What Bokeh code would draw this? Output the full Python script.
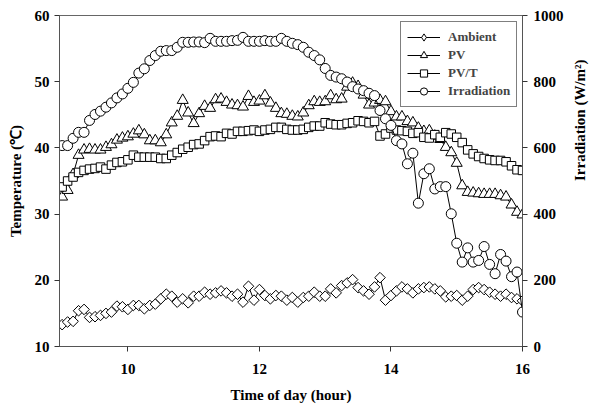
import math
from bokeh.plotting import figure
from bokeh.models import Range1d, LinearAxis, FixedTicker, Legend, LegendItem
from bokeh.embed import file_html
from bokeh.resources import INLINE

# sampling grid: every 5 minutes from 9:00 to 16:00 (hours)
time_h = [9 + m / 60 for m in range(0, 421, 5)]

ambient = [13.3, 13.7, 13.8, 15.4, 15.6, 14.4, 14.5, 14.7, 15.0, 15.2, 16.1, 16.0, 15.6, 16.2, 16.2, 15.7,
           16.2, 16.4, 17.2, 17.9, 17.6, 16.7, 17.2, 16.6, 17.6, 17.6, 18.2, 17.9, 18.1, 18.4, 18.1, 17.6,
           17.9, 16.7, 19.1, 17.0, 18.6, 17.7, 17.2, 17.7, 17.6, 17.0, 17.4, 16.7, 17.4, 17.6, 18.2, 17.6,
           17.6, 18.7, 18.1, 19.2, 19.6, 20.1, 18.9, 18.4, 17.9, 19.0, 20.4, 17.0, 17.7, 18.4, 19.0, 18.7,
           18.1, 18.7, 18.9, 19.0, 18.7, 18.4, 17.5, 17.6, 17.7, 17.0, 17.6, 18.6, 18.9, 18.6, 18.2, 17.9,
           17.6, 17.9, 17.4, 17.2, 16.9]

pv = [32.6, 33.6, 36.0, 38.9, 39.7, 39.8, 39.7, 39.7, 40.1, 40.5, 41.2, 41.5, 41.7, 42.1, 42.6, 42.0,
      41.1, 41.1, 40.8, 42.0, 43.8, 44.8, 47.2, 45.3, 43.7, 45.2, 46.3, 46.0, 47.3, 47.4, 46.9, 46.5,
      46.4, 46.2, 47.8, 46.9, 47.1, 47.9, 46.8, 46.0, 45.2, 45.1, 44.8, 44.7, 45.3, 46.4, 47.0, 46.9,
      47.0, 47.9, 47.3, 47.4, 49.2, 49.8, 49.3, 48.0, 46.5, 46.8, 47.2, 47.0, 45.5, 44.7, 44.7, 44.0,
      43.8, 43.0, 42.5, 42.6, 41.8, 41.3, 40.1, 39.3, 37.7, 34.3, 33.3, 33.2, 33.1, 33.0, 33.0, 33.0,
      32.8, 32.6, 31.4, 30.3, 29.9]

pvt = [34.1, 35.0, 35.6, 36.3, 36.6, 36.8, 36.9, 37.1, 36.8, 37.4, 37.8, 37.9, 38.2, 38.9, 38.6, 38.6,
       38.6, 38.6, 38.4, 38.4, 38.9, 39.3, 39.8, 40.1, 40.5, 40.6, 41.1, 41.7, 41.8, 41.7, 42.2, 42.1,
       42.5, 42.5, 42.6, 42.7, 42.5, 42.7, 42.8, 43.1, 43.1, 42.8, 42.7, 42.7, 42.8, 43.1, 43.3, 43.3,
       43.8, 43.6, 43.5, 43.5, 43.7, 43.8, 44.1, 44.0, 43.8, 44.0, 41.8, 42.1, 43.0, 42.7, 42.6, 42.5,
       42.2, 42.3, 41.6, 41.5, 42.0, 41.6, 42.3, 42.1, 41.6, 40.8, 39.7, 39.1, 38.7, 38.4, 38.2, 38.1,
       38.1, 37.9, 37.3, 36.7, 36.6]

irradiation = [607, 607, 629, 647, 647, 683, 701, 711, 723, 736, 751, 763, 780, 798, 826, 839,
               864, 879, 892, 894, 894, 904, 919, 919, 920, 920, 918, 931, 922, 922, 922, 924,
               925, 934, 922, 922, 922, 924, 922, 922, 931, 922, 916, 912, 904, 889, 879, 866,
               840, 819, 814, 809, 799, 785, 778, 773, 765, 758, 713, 688, 668, 622, 612, 552,
               584, 433, 522, 537, 476, 483, 483, 401, 312, 255, 298, 255, 260, 302, 248, 220,
               278, 258, 211, 225, 104]

x_ticks = [10, 12, 14, 16]
temp_ticks = [10, 20, 30, 40, 50, 60]
irr_ticks = [0, 200, 400, 600, 800, 1000]

FONT = "Liberation Serif"

p = figure(width=600, height=409, x_range=Range1d(8.96, 16.0), y_range=Range1d(10, 60),
           output_backend="svg", toolbar_location=None,
           min_border_left=59, min_border_right=78, min_border_top=15, min_border_bottom=63)
p.extra_y_ranges = {"irr": Range1d(0, 1000)}
p.xgrid.visible = False
p.ygrid.visible = False
p.outline_line_color = "#666666"
p.background_fill_color = "white"
p.border_fill_color = "white"

right_axis = LinearAxis(y_range_name="irr")
p.add_layout(right_axis, "right")

def style(ax, ticks, label):
    ax.ticker = FixedTicker(ticks=ticks)
    ax.axis_label = label
    ax.axis_line_color = "#555555"
    ax.major_tick_line_color = "#333333"
    ax.major_tick_in = 0
    ax.major_tick_out = 5
    ax.minor_tick_in = 0
    ax.minor_tick_out = 0
    ax.major_label_text_font = FONT
    ax.major_label_text_font_style = "bold"
    ax.major_label_text_font_size = "15px"
    ax.major_label_text_color = "black"
    ax.axis_label_text_font = FONT
    ax.axis_label_text_font_style = "bold"
    ax.axis_label_text_font_size = "15px"
    ax.axis_label_text_color = "black"

bottom_axis = p.below[0]
left_axis = p.left[0]
style(bottom_axis, x_ticks, "Time of day (hour)")
style(left_axis, temp_ticks, "Temperature (\u2103)")
style(right_axis, irr_ticks, "Irradiation (W/m\u00b2)")
bottom_axis.major_label_standoff = 12
bottom_axis.axis_label_standoff = 10
left_axis.major_label_standoff = 5
left_axis.axis_label_standoff = 8
right_axis.major_label_standoff = 6
right_axis.axis_label_standoff = 13
right_axis.axis_label_orientation = math.pi / 2

series = [
    ("Ambient", ambient, "square", 7.5, math.pi / 4, "default"),
    ("PV", pv, "triangle", 11, 0.0, "default"),
    ("PV/T", pvt, "square", 8.5, 0.0, "default"),
    ("Irradiation", irradiation, "circle", 10, 0.0, "irr"),
]

items = []
for name, vals, marker, size, ang, rng in series:
    lr = p.line(time_h, vals, line_color="black", line_width=1, y_range_name=rng)
    sr = p.scatter(time_h, vals, marker=marker, size=size, angle=ang,
                   fill_color="white", line_color="black", line_width=1, y_range_name=rng)
    rends = [lr, sr]
    if name == "Ambient":
        # diamond sample for the legend only (legend ignores marker rotation)
        dr = p.scatter(time_h, vals, marker="diamond", size=size, fill_color="white",
                       line_color="black", line_width=1, y_range_name=rng)
        dr.visible = False
        rends = [lr, dr]
    items.append(LegendItem(label=name, renderers=rends))

legend = Legend(items=items, location=(341, 239))
legend.border_line_color = "black"
legend.border_line_width = 1
legend.background_fill_color = "white"
legend.background_fill_alpha = 1.0
legend.label_text_font = FONT
legend.label_text_font_style = "bold"
legend.label_text_font_size = "13px"
legend.glyph_width = 33
legend.glyph_height = 18
legend.label_height = 18
legend.spacing = 0
legend.padding = 6
legend.margin = 0
legend.label_standoff = 8
p.add_layout(legend)

open("out.html", "w").write(file_html(p, INLINE))
